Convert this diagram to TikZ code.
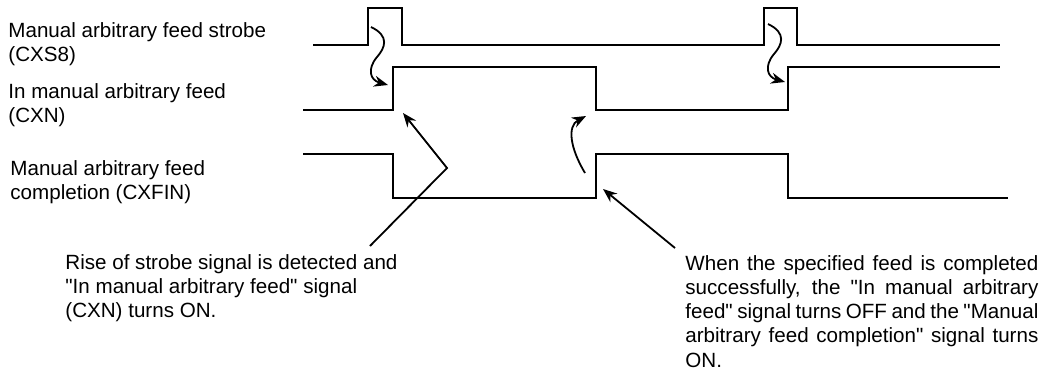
\documentclass[tikz,border=0pt]{standalone}
\usepackage{fontspec}
\setmainfont{Liberation Sans}[Ligatures=TeXOff]
\usetikzlibrary{arrows.meta}

\begin{document}
\begin{tikzpicture}[
        x=0.5pt,y=-0.5pt,
        wave/.style={line width=0.9pt,line join=miter},
        pointer/.style={line width=0.9pt,-{Stealth[length=7pt,width=5.5pt]}},
        signame/.style={anchor=west,align=left,inner sep=0pt,font=\fontsize{10.3}{12}\selectfont},
        note/.style={anchor=north west,inner sep=0pt,font=\fontsize{10.3}{12.1}\selectfont},
    ]
    \useasboundingbox (0,0) rectangle (1044,376);

    % === Signal names ===
    \node[signame] (cxs8) at (8,44) {Manual arbitrary feed strobe\\(CXS8)};
    \node[signame] (cxn) at (8,105) {In manual arbitrary feed\\(CXN)};
    \node[signame] (cxfin) at (10,182) {Manual arbitrary feed\\completion (CXFIN)};

    % === Waveforms ===
    \draw[wave] (313,45) -- (368,45) -- (368,8) -- (402,8) -- (402,45) -- (764,45) -- (764,8) -- (797,8) -- (797,45) -- (1000,45);
    \draw[wave] (303,110) -- (393,110) -- (393,67) -- (596,67) -- (596,110) -- (788,110) -- (788,67) -- (1000,67);
    \draw[wave] (303,154) -- (393,154) -- (393,198) -- (596,198) -- (596,154) -- (788,154) -- (788,198) -- (1008,198);

    % === Cause arrows ===
    \coordinate (strobeA) at (371,27); \coordinate (riseA) at (388,85);
    \coordinate (strobeB) at (768,24); \coordinate (riseB) at (785,82);
    \draw[pointer] (strobeA) .. controls (390,36) and (385,48) .. (377,57) .. controls (367,69) and (370,80) .. (riseA);
    \draw[pointer] (strobeB) .. controls (787,33) and (782,45) .. (774,54) .. controls (764,66) and (767,77) .. (riseB);
    \coordinate (doneFrom) at (585,173); \coordinate (cxnFall) at (586,116);
    \draw[pointer] (doneFrom) .. controls (570,148) and (567,126) .. (cxnFall);

    % === Notes ===
    \node[note,align=left] (riseNote) at (65,254)
        {Rise of strobe signal is detected and\\"In manual arbitrary feed" signal\\(CXN) turns ON.};
    \node[note,text width=176.5pt,align=justify] (doneNote) at (685,255)
        {\hyphenpenalty=10000 When the specified feed is completed\linebreak successfully, the "In manual arbitrary\linebreak feed" signal turns OFF and the "Manual\linebreak arbitrary feed completion" signal turns\linebreak ON.};

    \coordinate (riseFrom) at (370,246); \coordinate (riseBend) at (447,168); \coordinate (cxnRise) at (403,113);
    \draw[pointer] (riseFrom) -- (riseBend) -- (cxnRise);
    \coordinate (doneFrom2) at (675,248); \coordinate (finRise) at (603,189);
    \draw[pointer] (doneFrom2) -- (finRise);
\end{tikzpicture}
\end{document}
